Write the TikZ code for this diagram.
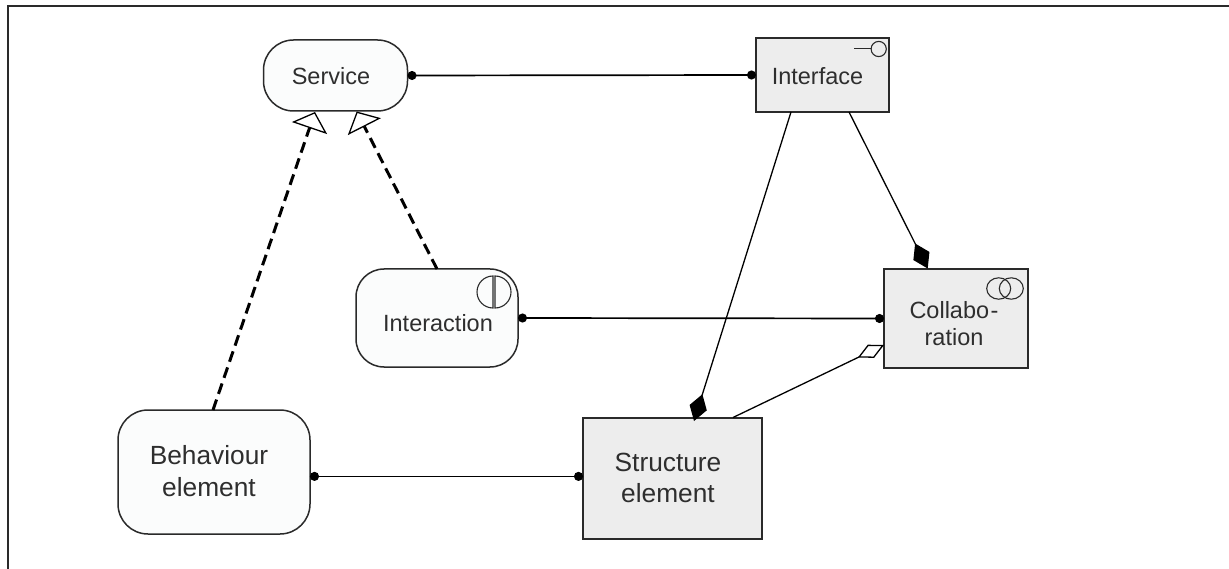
\documentclass[tikz,border=0pt]{standalone}
\usepackage{fontspec}
\setmainfont{Liberation Sans}
\usetikzlibrary{arrows.meta}
\definecolor{linec}{HTML}{2A2A2A}
\definecolor{textc}{HTML}{2E2E2E}
\definecolor{boxgrey}{HTML}{EDEDED}
\definecolor{roundfill}{HTML}{FBFCFC}
\tikzset{
  x=1pt,y=-1pt,
  every node/.style={outer sep=0pt,inner sep=0pt,text=textc,align=center,
    font=\fontsize{23.5}{27}\selectfont},
  largetext/.style={font=\fontsize{26.3}{31.5}\selectfont},
  structbox/.style={draw=linec,line width=1.5pt,fill=boxgrey},
  behbox/.style={draw=linec,line width=1.5pt,fill=roundfill,rounded corners=#1},
  assoc/.style={draw=black,line width=1.7pt,{Circle[length=9pt]}-{Circle[length=9pt]}},
  realize/.style={draw=black,line width=3pt,dash pattern=on 11pt off 6pt,
    -{Triangle[open,length=17pt,width=37pt,line width=1.3pt,fill=white]}},
  compose/.style={draw=black,line width=1.3pt,-{Diamond[length=28pt,width=18pt,fill=black]}},
  aggregate/.style={draw=black,line width=1.3pt,-{Diamond[open,length=29pt,width=14.6pt,line width=1.3pt,fill=white]}},
  icon/.style={draw=linec,line width=1.1pt},
}
\begin{document}
\begin{tikzpicture}
\useasboundingbox (0,0) rectangle (1229,569);
\draw[line width=2.2pt,color=linec] (8,569) -- (8,6) -- (1229,6);
% nodes
\node[behbox=30pt,minimum width=144pt,minimum height=71pt] (service) at (335.5,75.5) {};
\node[structbox,minimum width=133pt,minimum height=74pt] (interface) at (822.5,75) {};
\node[behbox=28pt,minimum width=162pt,minimum height=98pt] (interaction) at (437,318) {};
\node[structbox,minimum width=144pt,minimum height=99pt] (collab) at (956,318.5) {};
\node[structbox,minimum width=179pt,minimum height=121pt] (structure) at (672.5,478.5) {};
\node[behbox=30pt,minimum width=192pt,minimum height=124pt] (behaviour) at (214,472) {};
% labels
\node[anchor=base] (serviceT) at (331,84.5) {Service};
\node[anchor=base] (interfaceT) at (817.5,85) {Interface};
\node[anchor=base] (interactionT) at (438,331.5) {Interaction};
\node (collabT) at (954,323.5) {Collabo\kern1.5pt-\\ration};
\node[largetext] (structureT) at (668,478) {Structure\\element};
\node[largetext] (behaviourT) at (209,471) {Behaviour\\element};
% anchors
\coordinate (behOut) at (310,476.4);
\coordinate (strIn) at (583,476.4);
\coordinate (behTop) at (213,410);
\coordinate (intTop) at (437,269);
\coordinate (srvA) at (315,112);
\coordinate (srvB) at (356.7,111.5);
\coordinate (ifA) at (791,112);
\coordinate (ifB) at (849,112);
\coordinate (colTop) at (927.7,268.5);
\coordinate (strTop) at (694,421);
\coordinate (strTop2) at (733,417.5);
\coordinate (colLeft) at (884,345);
% connectors
\draw[assoc] (service.east) -- (interface.west);
\draw[assoc] (interaction.east) -- (collab.west);
\draw[assoc] (behOut) -- (strIn);
\draw[realize] (behTop) -- (srvA);
\draw[realize] (intTop) -- (srvB);
\draw[compose] (ifB) -- (colTop);
\draw[compose] (ifA) -- (strTop);
\draw[aggregate] (strTop2) -- (colLeft);
% icons
\draw[icon] (854,48.5) -- (871,48.5);
\draw[icon] (878.7,49) circle (7.6);
\draw[icon] (493,276) arc (-90:-270:16) -- cycle;
\draw[icon] (495,276) arc (-90:90:16) -- cycle;
\draw[icon] (998.7,288.5) ellipse (12 and 10.7);
\draw[icon] (1011.3,288.5) ellipse (12 and 10.7);
\end{tikzpicture}
\end{document}
